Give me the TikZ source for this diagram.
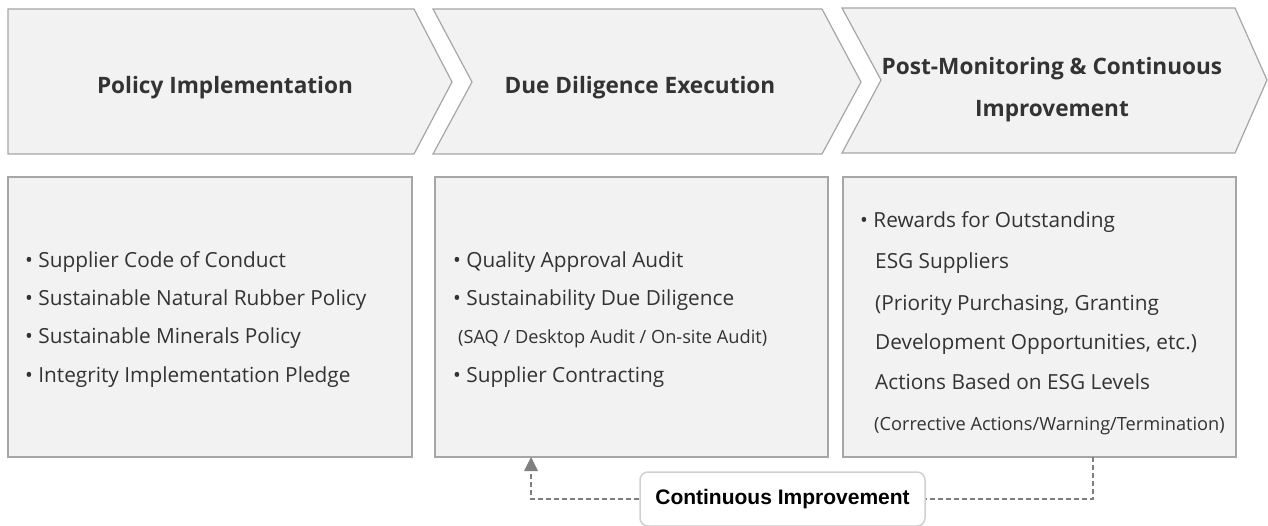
\documentclass[tikz,border=0pt]{standalone}
\usepackage{fontspec}
\setmainfont{Open Sans}
\newfontfamily\arialfont{Liberation Sans}
\definecolor{boxfill}{HTML}{F2F2F2}
\definecolor{boxline}{HTML}{A6A6A6}
\definecolor{txt}{HTML}{333333}
\definecolor{dashc}{HTML}{808080}
\definecolor{lblline}{HTML}{D0D0D0}
\tikzset{
  chev/.style={fill=boxfill, draw=boxline, line width=1.2pt},
  panel/.style={rectangle, fill=boxfill, draw=boxline, line width=1.2pt, inner sep=0pt},
  head/.style={font=\fontsize{22.6}{28}\selectfont\bfseries, text=txt, align=center},
  body/.style={font=\fontsize{20.8}{24}\selectfont, text=txt, inner sep=0pt, anchor=base west},
  small/.style={font=\fontsize{18.2}{21}\selectfont, text=txt, inner sep=0pt, anchor=base west},
  lbl/.style={rectangle, rounded corners=8pt, draw=lblline, line width=1.5pt, fill=white,
     font=\arialfont\fontsize{21}{24}\selectfont\bfseries, text=black, minimum width=285pt, minimum height=54pt},
  flow/.style={draw=dashc, line width=1.2pt, dash pattern=on 5pt off 3pt},
}
\begin{document}
\begin{tikzpicture}[x=1pt,y=-1pt]
\useasboundingbox (0,0) rectangle (1268,526);
% chevrons
\draw[chev] (8,9) -- (414,9) -- (452,82) -- (414,154) -- (8,154) -- cycle;
\draw[chev] (433,9) -- (822,9) -- (861,82) -- (822,154) -- (433,154) -- (472,82) -- cycle;
\draw[chev] (842,8) -- (1235,8) -- (1267,80) -- (1235,153) -- (842,153) -- (881,80) -- cycle;
\node[head] (h1) at (225,88) {Policy Implementation};
\node[head] (h2) at (640,88) {Due Diligence Execution};
\node[head, text depth=0pt] (h3) at (1052,87) {Post-Monitoring \& Continuous\\[14pt]Improvement};
% panels
\node[panel, minimum width=404pt, minimum height=280pt] (b1) at (210,317) {};
\node[panel, minimum width=393pt, minimum height=280pt] (b2) at (631.5,317) {};
\node[panel, minimum width=393pt, minimum height=280pt] (b3) at (1039.5,317) {};
% panel 1
\node[body] (t11) at (25,268) {• Supplier Code of Conduct};
\node[body] (t12) at (25,306) {• Sustainable Natural Rubber Policy};
\node[body] (t13) at (25,344) {• Sustainable Minerals Policy};
\node[body] (t14) at (25,382) {• Integrity Implementation Pledge};
% panel 2
\node[body] (t21) at (453,268) {• Quality Approval Audit};
\node[body] (t22) at (453,306) {• Sustainability Due Diligence};
\node[small] (t23) at (458,343) {(SAQ / Desktop Audit / On-site Audit)};
\node[body] (t24) at (453,382) {• Supplier Contracting};
% panel 3
\node[body] (t31) at (860,228) {• Rewards for Outstanding};
\node[body] (t32) at (875,269) {ESG Suppliers};
\node[body] (t33) at (875,311) {(Priority Purchasing, Granting};
\node[body] (t34) at (875,349) {Development Opportunities, etc.)};
\node[body] (t35) at (875,389) {Actions Based on ESG Levels};
\node[small] (t36) at (874,430) {(Corrective Actions/Warning/Termination)};
% feedback loop
\node[lbl] (ci) at (782.5,499) {Continuous Improvement};
\coordinate (fromb3) at (1093,457);
\coordinate (tob2) at (531,457);
\coordinate (arrbase) at (531,470);
\draw[flow] (fromb3) |- (ci.east);
\draw[flow] (ci.west) -| (arrbase);
\fill[dashc] (tob2) -- (524,471) -- (538,471) -- cycle;
\end{tikzpicture}
\end{document}
